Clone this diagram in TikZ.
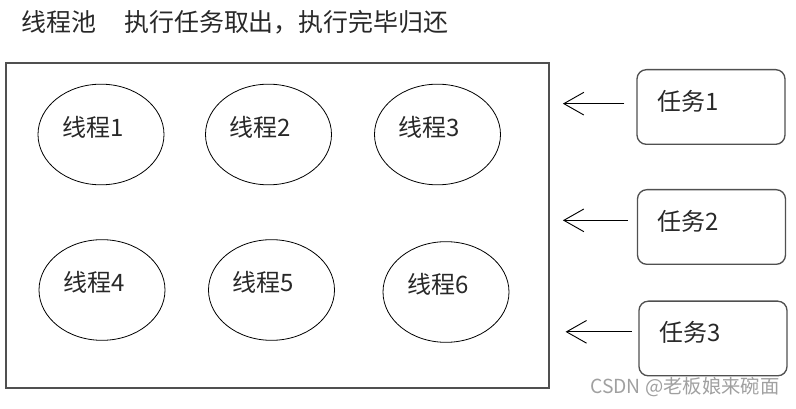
\documentclass[tikz,border=0pt]{standalone}
\usepackage{fontspec}
\setmainfont{Noto Sans CJK SC}
\usetikzlibrary{
  arrows.meta,
  shapes.geometric
}
\definecolor{ink}{RGB}{40,40,40}
\definecolor{frame}{RGB}{80,80,80}
\definecolor{credit}{RGB}{160,160,160}

\begin{document}
\begin{tikzpicture}[
  x=0.75pt, y=-0.75pt,
  every node/.style={font=\fontsize{18pt}{20pt}\selectfont, text=ink},
  caption/.style={anchor=west, inner sep=0pt},
  pool/.style={draw=frame, line width=1.1pt, minimum width=407pt, minimum height=244pt},
  thread/.style={draw=black, ellipse, line width=0.6pt, inner sep=0pt,
    minimum width=94.5pt, minimum height=75.5pt,
    text width=58pt, align=left, text height=14pt, text depth=11pt},
  task/.style={draw=frame, rounded corners=7pt, line width=1pt, align=left,
    minimum height=56pt, text width=81pt, inner xsep=15pt,
    text height=15pt, text depth=10pt},
  feed/.style={draw=black, line width=0.7pt,
    -{Straight Barb[length=15pt, width=17pt]}},
]
\useasboundingbox (0,0) rectangle (796,409);

% heading
\node[caption, font=\fontsize{18.7pt}{20pt}\selectfont] (pooltitle) at (21,22) {线程池};
\node[caption, font=\fontsize{18.7pt}{20pt}\selectfont] (flow) at (124,22) {执行任务取出，执行完毕归还};

% the pool and its threads
\node[pool] (pool) at (277.5,225.5) {};
\node[thread] (t1) at (101,134.5) {线程1};
\node[thread] (t2) at (268.5,134.5) {线程2};
\node[thread] (t3) at (437.5,134.5) {线程3};
\node[thread] (t4) at (102,290) {线程4};
\node[thread] (t5) at (271.5,290) {线程5};
\node[thread] (t6) at (446,292) {线程6};

% queued tasks
\node[task] (task1) at (711,107) {任务1};
\node[task] (task2) at (711.5,227) {任务2};
\node[task] (task3) at (713,338.5) {任务3};

\draw[feed, shorten <=9pt, shorten >=10pt] ([yshift=2.5pt]task1.west) -- ([yshift=2.5pt]task1.west -| pool.east);
\draw[feed, shorten <=7pt, shorten >=10pt] ([yshift=5pt]task2.west) -- ([yshift=5pt]task2.west -| pool.east);
\draw[feed, shorten <=5pt, shorten >=12pt] ([yshift=5pt]task3.west) -- ([yshift=5pt]task3.west -| pool.east);

\node[caption, font=\fontsize{14.5pt}{16pt}\selectfont, text=credit] (mark) at (590,387) {CSDN @老板娘来碗面};

\end{tikzpicture}
\end{document}
